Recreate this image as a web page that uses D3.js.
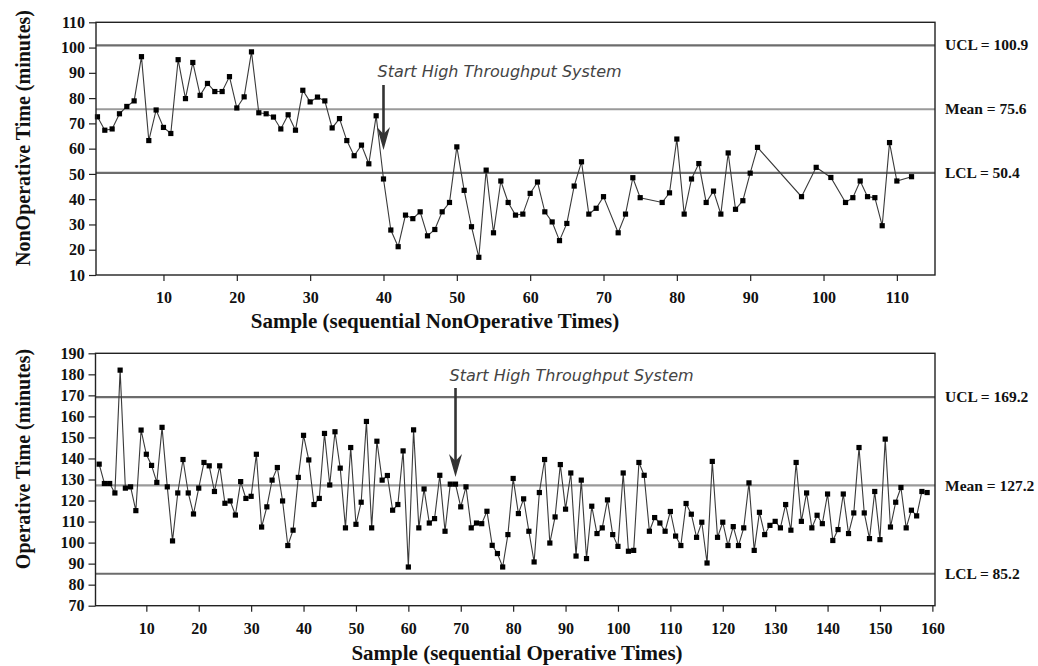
<!DOCTYPE html>
<html>
<head>
<meta charset="utf-8">
<script src="https://cdn.jsdelivr.net/npm/d3@7"></script>
<style>
body { margin: 0; background: #fff; }
svg { display: block; }
</style>
</head>
<body>
<div id="chart"></div>
<script>
// top panel: non operative times
var topSamples = [1,2,3,4,5,6,7,8,9,10,11,12,13,14,15,16,17,18,19,20,
    21,22,23,24,25,26,27,28,29,30,31,32,33,34,35,36,37,38,39,40,
    41,42,43,44,45,46,47,48,49,50,51,52,53,54,55,56,57,58,59,60,
    61,62,63,64,65,66,67,68,69,70,72,73,74,75,78,79,80,81,82,83,
    84,85,86,87,88,89,90,91,97,99,101,103,104,105,106,107,108,109,110,112];
var topValues = [72.6,67.3,67.8,73.8,76.7,78.9,96.4,63.2,75.3,68.4,66.0,95.2,79.8,94.1,81.1,85.8,82.6,82.6,88.5,76.1,
    80.5,98.3,74.2,73.8,72.5,67.8,73.4,67.3,83.1,78.5,80.4,78.9,68.2,71.9,63.2,57.2,61.4,54.0,73.0,48.0,
    27.8,21.2,33.7,32.3,35.0,25.5,28.0,35.0,38.7,60.7,43.5,29.1,17.0,51.5,26.7,47.2,38.7,33.7,34.1,42.3,
    46.8,35.0,31.0,23.6,30.4,45.2,54.8,34.1,36.4,41.0,26.7,34.1,48.5,40.6,38.7,42.5,63.8,34.1,48.0,54.1,
    38.7,43.2,34.1,58.3,36.0,39.4,50.3,60.5,41.0,52.6,48.6,38.7,40.6,47.2,41.0,40.6,29.5,62.4,47.2,48.9];
var topXTicks = [10,20,30,40,50,60,70,80,90,100,110];
var topYTicks = [10,20,30,40,50,60,70,80,90,100,110];
var topLimits = [100.9,75.6,50.4];

// bottom panel: operative times (samples 1..159)
var bottomValues = [137.3,128.1,128.1,123.6,182.0,125.9,126.5,115.2,153.5,142.0,
    136.7,128.6,154.8,126.5,100.8,123.6,139.5,123.6,113.6,125.9,
    138.1,136.5,124.3,136.5,118.7,119.8,113.1,129.0,121.0,122.0,
    142.0,107.4,117.0,129.7,135.7,119.8,98.6,105.9,131.0,151.0,
    139.3,118.1,121.0,151.9,127.4,152.7,135.4,107.0,145.2,108.7,
    119.2,157.6,107.0,148.2,129.7,131.9,115.4,118.1,143.6,88.4,
    153.6,107.0,125.5,109.3,111.4,132.0,105.4,127.8,127.8,117.0,
    126.5,107.0,109.3,109.0,114.9,98.7,94.8,88.4,103.8,130.5,
    113.8,120.8,105.4,90.8,123.8,139.5,99.8,112.2,137.1,115.9,
    133.1,93.6,129.7,92.4,117.3,104.3,107.0,120.3,103.8,98.2,
    133.1,95.9,96.3,138.1,132.0,105.4,111.9,109.3,105.4,114.8,
    103.1,98.6,118.6,113.5,102.5,109.7,90.3,138.6,102.5,109.7,
    98.6,107.6,98.6,107.0,128.4,96.3,114.4,103.8,108.2,110.1,
    107.0,118.1,105.9,138.1,110.1,123.6,107.0,113.0,109.0,123.1,
    101.0,106.2,123.1,104.3,114.1,145.2,114.1,101.9,124.3,101.4,
    149.2,107.4,119.2,126.2,107.0,115.4,112.7,124.3,123.8];
var bottomSamples = bottomValues.map(function(v, i){ return i + 1; });
var bottomXTicks = [10,20,30,40,50,60,70,80,90,100,110,120,130,140,150,160];
var bottomYTicks = [70,80,90,100,110,120,130,140,150,160,170,180,190];
var bottomLimits = [169.2,127.2,85.2];

var limitNames = ["UCL","Mean","LCL"];
var limitColors = ["#6c6c6c","#9a9a9a","#6c6c6c"];

var svg = d3.select("#chart").append("svg")
    .attr("width", 1038)
    .attr("height", 666);

var serif = "'Liberation Serif','Times New Roman',serif";

function drawPanel(p) {
    var x = d3.scaleLinear().domain(p.xDomain).range([p.left, p.right]);
    var y = d3.scaleLinear().domain(p.yDomain).range([p.bottom, p.top]);
    var g = svg.append("g");

    // control limit lines
    g.selectAll(".limit")
        .data(p.limits)
        .enter().append("line")
        .attr("x1", p.left).attr("x2", p.right)
        .attr("y1", function(d){ return y(d); })
        .attr("y2", function(d){ return y(d); })
        .style("stroke", function(d, i){ return limitColors[i]; })
        .style("stroke-width", 2.2);

    g.selectAll(".limitlabel")
        .data(p.limits)
        .enter().append("text")
        .attr("x", 945)
        .attr("y", function(d){ return y(d); })
        .attr("dy", "0.33em")
        .style("font-family", serif)
        .style("font-weight", "bold")
        .style("font-size", "15.5px")
        .style("fill", "#111")
        .text(function(d, i){ return limitNames[i] + " = " + d.toFixed(1); });

    // axes
    var yAxis = g.append("g")
        .attr("transform", "translate(" + p.left + ",0)")
        .call(d3.axisLeft(y).tickValues(p.yTicks).tickSize(7).tickPadding(4));
    var xAxis = g.append("g")
        .attr("transform", "translate(0," + p.bottom + ")")
        .call(d3.axisBottom(x).tickValues(p.xTicks).tickSize(6).tickPadding(11));
    [xAxis, yAxis].forEach(function(a){
        a.select(".domain").remove();
        a.selectAll("line").style("stroke", "#222").style("stroke-width", 1.2);
        a.selectAll("text")
            .style("font-family", serif)
            .style("font-weight", "bold")
            .style("font-size", "16px")
            .style("fill", "#111");
    });

    // the series
    var pts = p.samples.map(function(s, i){ return {s: s, v: p.values[i]}; });
    var line = d3.line()
        .x(function(d){ return x(d.s); })
        .y(function(d){ return y(d.v); });
    g.append("path")
        .datum(pts)
        .attr("d", line)
        .style("fill", "none")
        .style("stroke", "#3a3a3a")
        .style("stroke-width", 1.1);
    g.selectAll(".pt")
        .data(pts)
        .enter().append("rect")
        .attr("x", function(d){ return x(d.s) - 2.6; })
        .attr("y", function(d){ return y(d.v) - 2.6; })
        .attr("width", 5.2)
        .attr("height", 5.2)
        .style("fill", "#000");

    // plot frame
    g.append("rect")
        .attr("x", p.left).attr("y", p.top)
        .attr("width", p.right - p.left)
        .attr("height", p.bottom - p.top)
        .style("fill", "none")
        .style("stroke", "#222")
        .style("stroke-width", 1.4);

    // annotation arrow
    var ax = x(p.arrowAt);
    g.append("text")
        .attr("x", ax - 6)
        .attr("y", p.noteY)
        .style("font-family", "'DejaVu Sans',Verdana,sans-serif")
        .style("font-style", "italic")
        .style("font-size", "16px")
        .style("fill", "#444")
        .text("Start High Throughput System");
    g.append("line")
        .attr("x1", ax).attr("x2", ax)
        .attr("y1", p.arrowTop).attr("y2", p.arrowTip - 12)
        .style("stroke", "#333")
        .style("stroke-width", 2.6);
    g.append("path")
        .attr("d", "M" + ax + "," + p.arrowTip +
            "L" + (ax - 6.5) + "," + (p.arrowTip - 23) +
            "L" + ax + "," + (p.arrowTip - 16) +
            "L" + (ax + 6.5) + "," + (p.arrowTip - 23) + "Z")
        .style("fill", "#333");

    // axis titles
    g.append("text")
        .attr("x", p.xTitleX)
        .attr("y", p.xTitleY)
        .attr("text-anchor", "middle")
        .style("font-family", serif)
        .style("font-weight", "bold")
        .style("font-size", "21px")
        .style("fill", "#111")
        .text(p.xTitle);
    g.append("text")
        .attr("transform", "translate(30," + p.yTitleY + ") rotate(-90)")
        .attr("text-anchor", "middle")
        .style("font-family", serif)
        .style("font-weight", "bold")
        .style("font-size", "20px")
        .style("fill", "#111")
        .text(p.yTitle);
}

drawPanel({
    samples: topSamples, values: topValues,
    xDomain: [0.8, 115.2], yDomain: [10, 110],
    left: 96, right: 935, top: 22.3, bottom: 275,
    xTicks: topXTicks, yTicks: topYTicks, limits: topLimits,
    arrowAt: 40, noteY: 77, arrowTop: 85, arrowTip: 150,
    xTitle: "Sample (sequential NonOperative Times)", xTitleX: 435, xTitleY: 328,
    yTitle: "NonOperative Time (minutes)", yTitleY: 138
});

drawPanel({
    samples: bottomSamples, values: bottomValues,
    xDomain: [0.3, 160.5], yDomain: [70, 190],
    left: 95.5, right: 935, top: 353.3, bottom: 605.7,
    xTicks: bottomXTicks, yTicks: bottomYTicks, limits: bottomLimits,
    arrowAt: 69, noteY: 381, arrowTop: 388, arrowTip: 477,
    xTitle: "Sample (sequential Operative Times)", xTitleX: 517, xTitleY: 660,
    yTitle: "Operative Time (minutes)", yTitleY: 459
});
</script>
</body>
</html>
